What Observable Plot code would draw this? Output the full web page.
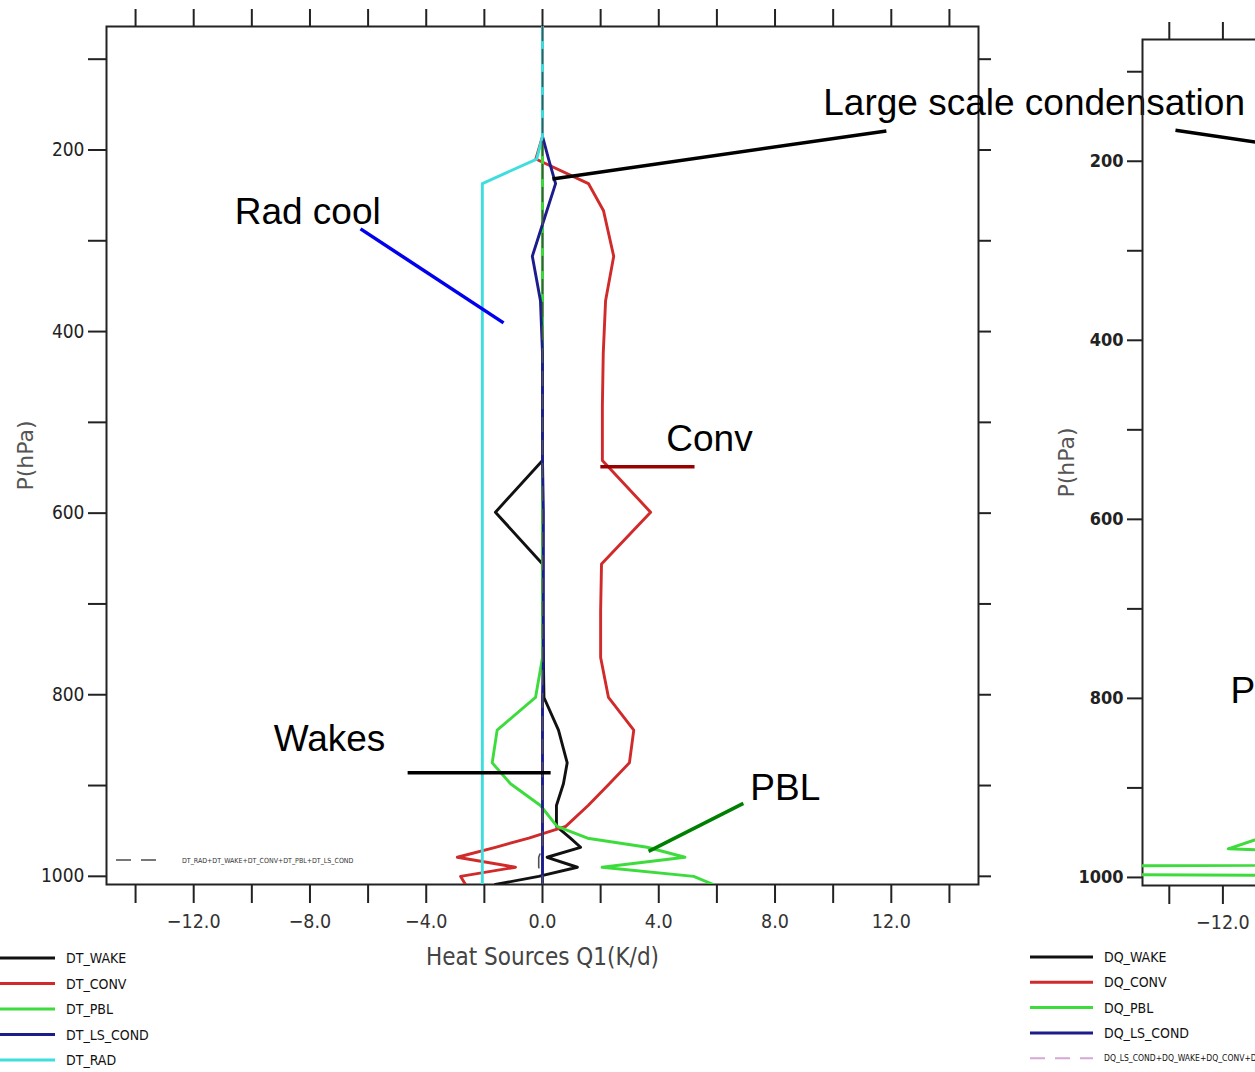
<!DOCTYPE html>
<html><head><meta charset="utf-8">
<script src="https://cdn.jsdelivr.net/npm/d3@7"></script>
<script src="https://cdn.jsdelivr.net/npm/@observablehq/plot@0.6"></script>
<style>
html,body{margin:0;padding:0;background:#fff;overflow:hidden;}
#wrap{position:relative;width:1255px;height:1072px;overflow:hidden;background:#fff;}
#wrap svg{position:absolute;background:transparent;overflow:visible;max-width:none;}
</style></head><body><div id="wrap"></div>
<script>
// ---------- data ----------
const pressure = [64,185,210,237,267,317,366,424,482,542,599,656,707,759,803,839,875,898,922,945,958,968,979,990,1000,1009];
const dtWake   = [0,0,0,0,0,0,0,0,0,0,-1.62,0,0,0.03,0.05,0.55,0.85,0.72,0.48,0.48,0.96,1.31,0.16,1.2,-0.13,-1.62];
const dtConv   = [0,0,-0.23,1.58,2.1,2.45,2.17,2.09,2.06,2.06,3.72,2.03,2.0,2.0,2.27,3.14,2.99,2.3,1.57,0.8,-0.47,-1.62,-2.93,-0.93,-2.82,-2.65];
const dtPbl    = [0,0,0,0,0,0,0,0,0,0,0,0,0,0,-0.24,-1.56,-1.73,-1.1,-0.07,0.5,1.55,3.6,4.9,2.05,5.2,5.88];
const dtLsCond = [0,0,0.21,0.45,0.15,-0.35,-0.07,0,0,0,0.03,0.03,0.03,0.03,0,0,0,0,0,0,0,0,0,0,0,0];
const dtRad    = [0,0,-0.2,-2.07,-2.07,-2.07,-2.07,-2.07,-2.07,-2.07,-2.07,-2.07,-2.07,-2.07,-2.07,-2.07,-2.07,-2.07,-2.07,-2.07,-2.07,-2.07,-2.07,-2.07,-2.07,-2.07];
const dtSum    = [0,0,0,0,0,0,0,0,0,0,0,0,0,0,0,0,0,0,0,0,0,0,-0.13,-0.13,0,0];

const dqPressure = [64,900,940,968,985,992,999,1009];
const dqPbl      = [0,0,-9,-11.8,3,-60,3,3];

const dtNames = ["DT_WAKE","DT_CONV","DT_PBL","DT_LS_COND","DT_RAD"];
const dtSumName = "DT_RAD+DT_WAKE+DT_CONV+DT_PBL+DT_LS_COND";
const dqNames = ["DQ_WAKE","DQ_CONV","DQ_PBL","DQ_LS_COND","DQ_LS_COND+DQ_WAKE+DQ_CONV+DQ_PBL"];

const xTicks = [-14,-12,-10,-8,-6,-4,-2,0,2,4,6,8,10,12,14];
const xLabelTicks = [-12,-8,-4,0,4,8,12];
const xTickLabels = ["\u221212.0","\u22128.0","\u22124.0","0.0","4.0","8.0","12.0"];
const yTicks = [100,200,300,400,500,600,700,800,900,1000];
const yLabelTicks = [200,400,600,800,1000];

const xTitle = "Heat Sources Q1(K/d)";
const yTitle = "P(hPa)";

// annotations (data units: K/d, hPa)
const annLabels = ["Rad cool","Large scale condensation","Conv","Wakes","PBL"];
const annTextX  = [-10.59, 9.66, 4.26, -9.25, 7.15];
const annTextP  = [282, 161, 531, 862, 916];
const annX1 = [-6.26, 0.34, 1.99, -4.64, 3.65];
const annP1 = [286.9, 231.9, 548.8, 885.8, 972.5];
const annX2 = [-1.34, 11.83, 5.23, 0.28, 6.91];
const annP2 = [390.4, 179.1, 548.8, 885.8, 919.7];
const dqAnnLabel = "PBL";
const dqAnnX = -11.72, dqAnnP = 805.6;
const dqLinkX = [-13.77, -9.1], dqLinkP = [165.4, 186];

// ---------- styles ----------
const NARROW = "'Liberation Sans Narrow','DejaVu Sans Condensed','Arial Narrow',sans-serif";
const SANS = "'Liberation Sans',Arial,sans-serif";
const dtColors = ["#111111","#d02a2a","#3ddc3d","#1c1c8c","#3fdede"];
const sumColor = "#505050";
const dqSumColor = "#d6a8d6";
const annColors = ["#0000ee","#000000","#990000","#000000","#008000"];

const rows = vals => pressure.map((p,i)=>({p, v: vals[i]}));
const dtSeries = [dtWake, dtConv, dtPbl, dtLsCond, dtRad];
const idx = d3.range(annLabels.length);

const wrap = document.getElementById("wrap");

function axes(opts){
  return [
    Plot.axisX({anchor:"bottom", label:null, ticks:xTicks, tickSize:19, tickFormat:()=>"", stroke:"#222", strokeWidth:2}),
    Plot.axisX({anchor:"bottom", label:null, ticks:xLabelTicks, tickSize:0, tickPadding:30,
      tickFormat:d=>xTickLabels[xLabelTicks.indexOf(d)], fontSize:19.5, fontFamily:NARROW, fill:"#333"}),
    Plot.axisX({anchor:"top", label:null, ticks:xTicks, tickSize:18, tickFormat:()=>"", stroke:"#222", strokeWidth:2}),
    Plot.axisY({anchor:"left", label:null, ticks:yTicks, tickSize:opts.ySize, tickPadding:4, stroke:"#222", strokeWidth:2,
      tickFormat:d=>yLabelTicks.includes(d)?String(d):"", fontSize:opts.yFont, fontFamily:NARROW, fill:"#222", fontWeight:opts.weight}),
    Plot.axisY({anchor:"right", label:null, ticks:yTicks, tickSize:12, tickFormat:()=>"", stroke:"#222", strokeWidth:2}),
    Plot.frame({stroke:"#222", strokeWidth:2}),
    Plot.text([yTitle], {frameAnchor:"left", textAnchor:"middle", lineAnchor:"middle", dx:opts.yTitleDx, rotate:-90, fontSize:22, fontFamily:"'DejaVu Sans',sans-serif", fill:"#555"})
  ];
}

// ---------- left panel ----------
const left = Plot.plot({
  width:1255, height:990,
  marginLeft:106, marginRight:277, marginTop:26, marginBottom:106,
  x:{domain:[-15,15]},
  y:{domain:[64,1009], reverse:true},
  style:{background:"transparent", overflow:"visible"},
  marks:[
    ...axes({ySize:18, yTitleDx:-81, weight:"normal", yFont:19}),
    Plot.text([xTitle], {frameAnchor:"bottom", textAnchor:"middle", lineAnchor:"middle", dy:73, fontSize:24, fontFamily:NARROW, fill:"#444"}),
    ...dtSeries.map((vals,i)=>Plot.line(rows(vals), {x:"v", y:"p", stroke:dtColors[i], strokeWidth:2.9, clip:true})),
    Plot.line(rows(dtSum), {x:"v", y:"p", stroke:sumColor, strokeWidth:1.6, strokeDasharray:"14,9", clip:true}),
    Plot.link(idx, {x1:i=>annX1[i], y1:i=>annP1[i], x2:i=>annX2[i], y2:i=>annP2[i], stroke:i=>annColors[i], strokeWidth:3.5}),
    Plot.text(idx, {x:i=>annTextX[i], y:i=>annTextP[i], text:i=>annLabels[i], textAnchor:"start", lineAnchor:"bottom", fontSize:37, fontFamily:SANS, fill:"#000"})
  ]
});
left.style.left = "0px"; left.style.top = "0px";
wrap.appendChild(left);

// ---------- right panel (partly visible) ----------
const right = Plot.plot({
  width:1100, height:1000,
  marginLeft:142, marginRight:154, marginTop:39, marginBottom:115,
  x:{domain:[-15,15]},
  y:{domain:[64,1009], reverse:true},
  style:{background:"transparent", overflow:"visible"},
  marks:[
    ...axes({ySize:15, yTitleDx:-76, weight:"bold", yFont:18}),
    Plot.line(dqPressure.map((p,i)=>({p, v:dqPbl[i]})), {x:"v", y:"p", stroke:dtColors[2], strokeWidth:2.9, clip:true}),
    Plot.link([0], {x1:dqLinkX[0], y1:dqLinkP[0], x2:dqLinkX[1], y2:dqLinkP[1], stroke:"#000", strokeWidth:3.5}),
    Plot.text([dqAnnLabel], {x:dqAnnX, y:dqAnnP, textAnchor:"start", lineAnchor:"bottom", fontSize:37, fontFamily:SANS, fill:"#000"})
  ]
});
right.style.left = "1000px"; right.style.top = "0px";
wrap.appendChild(right);

// ---------- legends ----------
const leg = d3.select(wrap).append("svg").attr("width",1255).attr("height",1072)
  .style("left","0px").style("top","0px");
// left legend
dtNames.forEach((n,i)=>{
  const y = 958 + i*25.5;
  leg.append("line").attr("x1",-5).attr("x2",55).attr("y1",y).attr("y2",y).attr("stroke",dtColors[i]).attr("stroke-width",3);
  leg.append("text").attr("x",66).attr("y",y).attr("dy","0.36em").attr("font-size",14).attr("font-family",NARROW).attr("fill","#111").text(n);
});
// inner dashed legend (left panel)
leg.append("line").attr("x1",116).attr("x2",162).attr("y1",860).attr("y2",860).attr("stroke","#777").attr("stroke-width",2).attr("stroke-dasharray","15,10");
leg.append("text").attr("x",182).attr("y",860).attr("dy","0.36em").attr("font-size",7).attr("font-family",NARROW).attr("fill","#333").text(dtSumName);
// right legend
dqNames.forEach((n,i)=>{
  const y = 957 + i*25.3;
  const last = i === dqNames.length-1;
  leg.append("line").attr("x1",1030).attr("x2",1093).attr("y1",y).attr("y2",y)
    .attr("stroke", last ? dqSumColor : dtColors[i]).attr("stroke-width", last ? 2 : 3)
    .attr("stroke-dasharray", last ? "15,10" : null);
  leg.append("text").attr("x",1104).attr("y",y).attr("dy","0.36em").attr("font-size", last ? 8.5 : 14)
    .attr("font-family",NARROW).attr("fill","#111").text(n);
});
</script>
</body></html>
